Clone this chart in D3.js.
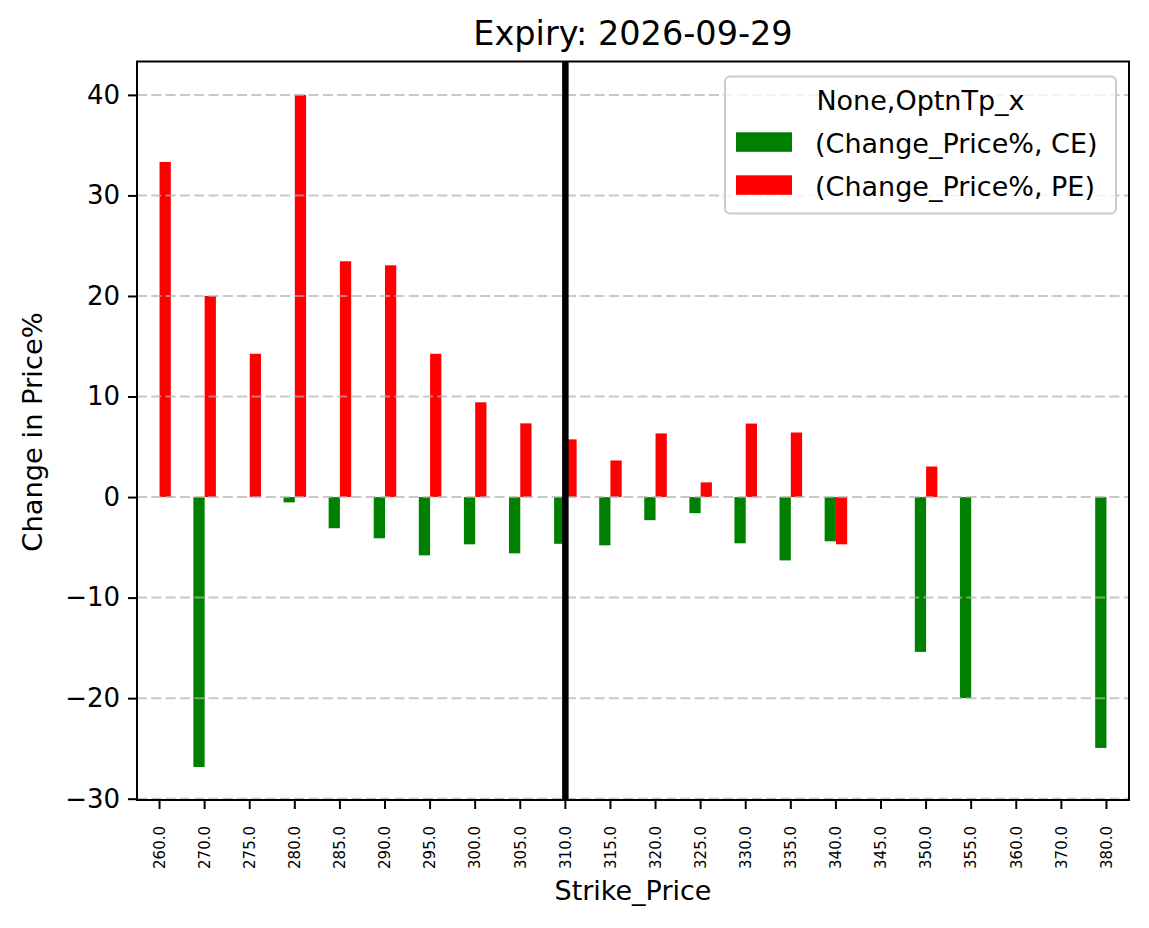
<!DOCTYPE html>
<html>
<head>
<meta charset="utf-8">
<script src="https://cdn.jsdelivr.net/npm/d3@7"></script>
<style>
  body { margin: 0; background: #fff; }
  svg { display: block; font-family: "DejaVu Sans", sans-serif; }
</style>
</head>
<body>
<svg id="chart"></svg>
<script>
// Strike prices (x categories)
const strikes = ["260.0", "270.0", "275.0", "280.0", "285.0", "290.0", "295.0", "300.0", "305.0", "310.0", "315.0",
                 "320.0", "325.0", "330.0", "335.0", "340.0", "345.0", "350.0", "355.0", "360.0", "370.0", "380.0"];

// Change_Price% for calls (CE) and puts (PE), null = no bar
const ceValues = [null, -26.85, null, -0.53, -3.1, -4.1, -5.8, -4.7, -5.6, -4.65, -4.8,
                  -2.3, -1.6, -4.6, -6.3, -4.4, null, -15.4, -20.0, null, null, -24.95];
const peValues = [33.33, 20.0, 14.25, 40.0, 23.45, 23.05, 14.25, 9.42, 7.33, 5.74, 3.64,
                  6.33, 1.46, 7.31, 6.42, -4.7, null, 3.04, null, null, null, null];

const yTicks = [-30, -20, -10, 0, 10, 20, 30, 40];
const spotStrike = "310.0";
const series = [
    { key: "CE", label: "(Change_Price%, CE)", color: "green", values: ceValues, side: -1 },
    { key: "PE", label: "(Change_Price%, PE)", color: "red", values: peValues, side: 0 }
];

const W = 1149, H = 928;
const margin = { left: 137, right: 1129, top: 61.5, bottom: 800 };

const svg = d3.select("#chart").attr("width", W).attr("height", H);
svg.append("rect").attr("width", W).attr("height", H).attr("fill", "#fff");

// Scales
const x = d3.scaleBand().domain(strikes).range([margin.left, margin.right]).padding(0);
const step = x.step();
const cx = s => x(s) + step / 2;
const y = d3.scaleLinear().domain([-30.13, 43.32]).range([margin.bottom, margin.top]);

// Bars
series.forEach(s => {
    svg.append("g")
        .selectAll("rect")
        .data(strikes.map((k, i) => ({ k, v: s.values[i] })).filter(d => d.v !== null))
        .enter().append("rect")
        .attr("x", d => cx(d.k) + s.side * step * 0.25)
        .attr("width", step * 0.25)
        .attr("y", d => y(Math.max(0, d.v)))
        .attr("height", d => Math.abs(y(d.v) - y(0)))
        .attr("fill", s.color);
});

// Horizontal dashed grid (on top of bars)
svg.append("g")
    .selectAll("line")
    .data(yTicks)
    .enter().append("line")
    .attr("x1", margin.left).attr("x2", margin.right)
    .attr("y1", d => y(d)).attr("y2", d => y(d))
    .attr("stroke", "#b0b0b0")
    .attr("stroke-opacity", 0.7)
    .attr("stroke-width", 2)
    .attr("stroke-dasharray", "10,4.3");

// Spot line
svg.append("line")
    .attr("x1", cx(spotStrike)).attr("x2", cx(spotStrike))
    .attr("y1", margin.top).attr("y2", margin.bottom)
    .attr("stroke", "#000")
    .attr("stroke-width", 6.5);

// Y axis
const yAxis = svg.append("g")
    .attr("transform", `translate(${margin.left},0)`)
    .call(d3.axisLeft(y).tickValues(yTicks).tickSize(9).tickPadding(8).tickFormat(d => d < 0 ? "\u2212" + Math.abs(d) : d));
yAxis.select(".domain").remove();
yAxis.selectAll("line").attr("stroke", "#000").attr("stroke-width", 2);
yAxis.selectAll("text").attr("font-size", 26).attr("fill", "#000").attr("font-family", "DejaVu Sans");

// X axis
const xAxis = svg.append("g")
    .attr("transform", `translate(0,${margin.bottom})`)
    .call(d3.axisBottom(x).tickSize(9).tickPadding(0));
xAxis.select(".domain").remove();
xAxis.selectAll("line").attr("stroke", "#000").attr("stroke-width", 2);
xAxis.selectAll("text")
    .attr("font-size", 15)
    .attr("fill", "#000")
    .attr("font-family", "DejaVu Sans")
    .attr("text-anchor", "end")
    .attr("transform", "rotate(-90)")
    .attr("x", -26)
    .attr("y", 0)
    .attr("dy", "0.35em");

// Frame
svg.append("rect")
    .attr("x", margin.left).attr("y", margin.top)
    .attr("width", margin.right - margin.left).attr("height", margin.bottom - margin.top)
    .attr("fill", "none")
    .attr("stroke", "#000")
    .attr("stroke-width", 2);

// Title and axis labels
svg.append("text")
    .attr("x", (margin.left + margin.right) / 2).attr("y", 45)
    .attr("text-anchor", "middle")
    .attr("font-size", 33.5)
    .text("Expiry: 2026-09-29");

svg.append("text")
    .attr("x", (margin.left + margin.right) / 2).attr("y", 900)
    .attr("text-anchor", "middle")
    .attr("font-size", 27)
    .text("Strike_Price");

svg.append("text")
    .attr("transform", `translate(42,432) rotate(-90)`)
    .attr("text-anchor", "middle")
    .attr("font-size", 27.3)
    .text("Change in Price%");

// Legend
const legend = svg.append("g");
legend.append("rect")
    .attr("x", 725).attr("y", 76.5)
    .attr("width", 391).attr("height", 137)
    .attr("rx", 5)
    .attr("fill", "#fff").attr("fill-opacity", 0.8)
    .attr("stroke", "#cccccc").attr("stroke-width", 2);
legend.append("text")
    .attr("x", 920.5).attr("y", 110)
    .attr("text-anchor", "middle")
    .attr("font-size", 27)
    .text("None,OptnTp_x");
series.forEach((s, i) => {
    const yy = 132.3 + i * 43;
    legend.append("rect")
        .attr("x", 736).attr("y", yy)
        .attr("width", 56).attr("height", 19.5)
        .attr("fill", s.color);
    legend.append("text")
        .attr("x", 815).attr("y", yy + 20.5)
        .attr("font-size", 27)
        .text(s.label);
});
</script>
</body>
</html>
